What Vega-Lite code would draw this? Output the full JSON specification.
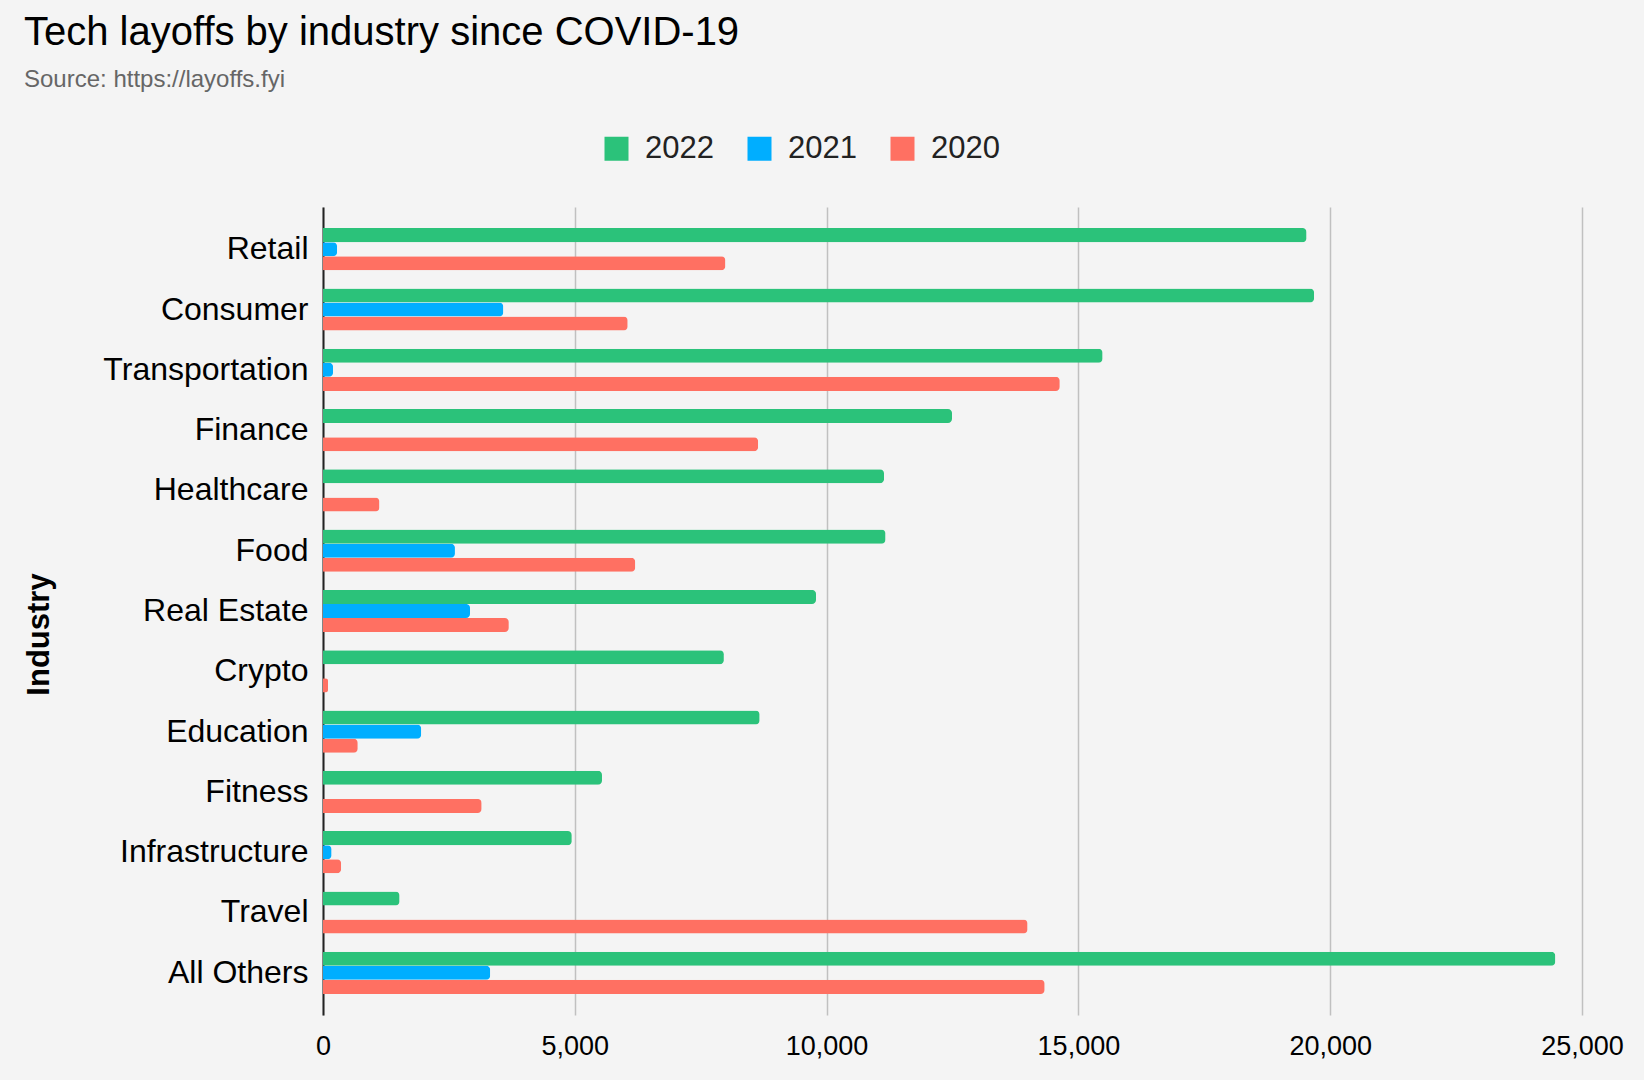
{
  "$schema": "https://vega.github.io/schema/vega-lite/v6.json",
  "width": 1259,
  "height": 808,
  "autosize": "none",
  "padding": {"left": 323, "top": 207, "right": 62, "bottom": 65},
  "background": "#f4f4f4",
  "title": {
    "text": "Tech layoffs by industry since COVID-19",
    "subtitle": "Source: https://layoffs.fyi",
    "anchor": "start",
    "frame": "group",
    "dx": -299,
    "offset": 41,
    "font": "Liberation Sans",
    "fontSize": 40,
    "fontWeight": "normal",
    "color": "#000000",
    "subtitleFont": "Liberation Sans",
    "subtitleFontSize": 24,
    "subtitleColor": "#666666",
    "subtitlePadding": 15
  },
  "data": {
    "values": [
      {"industry": "Retail", "year": "2022", "layoffs": 19530},
      {"industry": "Retail", "year": "2021", "layoffs": 280},
      {"industry": "Retail", "year": "2020", "layoffs": 7990},
      {"industry": "Consumer", "year": "2022", "layoffs": 19680},
      {"industry": "Consumer", "year": "2021", "layoffs": 3580},
      {"industry": "Consumer", "year": "2020", "layoffs": 6050},
      {"industry": "Transportation", "year": "2022", "layoffs": 15480},
      {"industry": "Transportation", "year": "2021", "layoffs": 200},
      {"industry": "Transportation", "year": "2020", "layoffs": 14630},
      {"industry": "Finance", "year": "2022", "layoffs": 12490},
      {"industry": "Finance", "year": "2020", "layoffs": 8640},
      {"industry": "Healthcare", "year": "2022", "layoffs": 11140},
      {"industry": "Healthcare", "year": "2020", "layoffs": 1120},
      {"industry": "Food", "year": "2022", "layoffs": 11170},
      {"industry": "Food", "year": "2021", "layoffs": 2620},
      {"industry": "Food", "year": "2020", "layoffs": 6200},
      {"industry": "Real Estate", "year": "2022", "layoffs": 9790},
      {"industry": "Real Estate", "year": "2021", "layoffs": 2920},
      {"industry": "Real Estate", "year": "2020", "layoffs": 3690},
      {"industry": "Crypto", "year": "2022", "layoffs": 7960},
      {"industry": "Crypto", "year": "2020", "layoffs": 100},
      {"industry": "Education", "year": "2022", "layoffs": 8670},
      {"industry": "Education", "year": "2021", "layoffs": 1950},
      {"industry": "Education", "year": "2020", "layoffs": 690},
      {"industry": "Fitness", "year": "2022", "layoffs": 5540},
      {"industry": "Fitness", "year": "2020", "layoffs": 3150},
      {"industry": "Infrastructure", "year": "2022", "layoffs": 4940},
      {"industry": "Infrastructure", "year": "2021", "layoffs": 170},
      {"industry": "Infrastructure", "year": "2020", "layoffs": 360},
      {"industry": "Travel", "year": "2022", "layoffs": 1520},
      {"industry": "Travel", "year": "2020", "layoffs": 13990},
      {"industry": "All Others", "year": "2022", "layoffs": 24470},
      {"industry": "All Others", "year": "2021", "layoffs": 3320},
      {"industry": "All Others", "year": "2020", "layoffs": 14330}
    ]
  },
  "mark": {"type": "bar", "cornerRadiusEnd": 4},
  "encoding": {
    "y": {
      "field": "industry",
      "type": "nominal",
      "sort": ["Retail", "Consumer", "Transportation", "Finance", "Healthcare", "Food", "Real Estate", "Crypto", "Education", "Fitness", "Infrastructure", "Travel", "All Others"],
      "scale": {"paddingInner": 0.3, "paddingOuter": 0.35},
      "axis": {
        "title": "Industry",
        "titleFont": "Liberation Sans",
        "titleFontSize": 31,
        "titleFontWeight": "bold",
        "titleColor": "#000000",
        "titleAngle": 270,
        "titleX": -268,
        "titleY": 427,
        "titleAlign": "center",
        "titleBaseline": "bottom",
        "labelFont": "Liberation Sans",
        "labelFontSize": 32,
        "labelLimit": 500,
        "labelColor": "#000000",
        "labelPadding": 15,
        "ticks": false,
        "tickSize": 0,
        "domain": true,
        "domainColor": "#222222",
        "domainWidth": 2,
        "grid": false
      }
    },
    "yOffset": {
      "field": "year",
      "type": "nominal",
      "sort": ["2022", "2021", "2020"],
      "scale": {"paddingInner": 0, "paddingOuter": 0}
    },
    "x": {
      "field": "layoffs",
      "type": "quantitative",
      "scale": {"domain": [0, 25000], "nice": false},
      "axis": {
        "title": null,
        "values": [0, 5000, 10000, 15000, 20000, 25000],
        "format": ",d",
        "labelFont": "Liberation Sans",
        "labelFontSize": 27,
        "labelColor": "#000000",
        "labelPadding": 18,
        "labelFlush": false,
        "labelOverlap": false,
        "ticks": false,
        "tickSize": 0,
        "domain": false,
        "grid": true,
        "gridColor": "#c0c0c0",
        "gridWidth": 1.5
      }
    },
    "color": {
      "field": "year",
      "type": "nominal",
      "sort": ["2022", "2021", "2020"],
      "scale": {"domain": ["2022", "2021", "2020"], "range": ["#2BC27A", "#00AEFF", "#FF7062"]},
      "legend": {
        "title": null,
        "orient": "none",
        "direction": "horizontal",
        "legendX": 278,
        "legendY": -74,
        "symbolType": "square",
        "symbolSize": 576,
        "symbolStrokeWidth": 0,
        "symbolOpacity": 1,
        "labelFont": "Liberation Sans",
        "labelFontSize": 31,
        "labelColor": "#222222",
        "labelOffset": 13,
        "columnPadding": 30
      }
    }
  },
  "config": {
    "view": {"stroke": null}
  }
}
